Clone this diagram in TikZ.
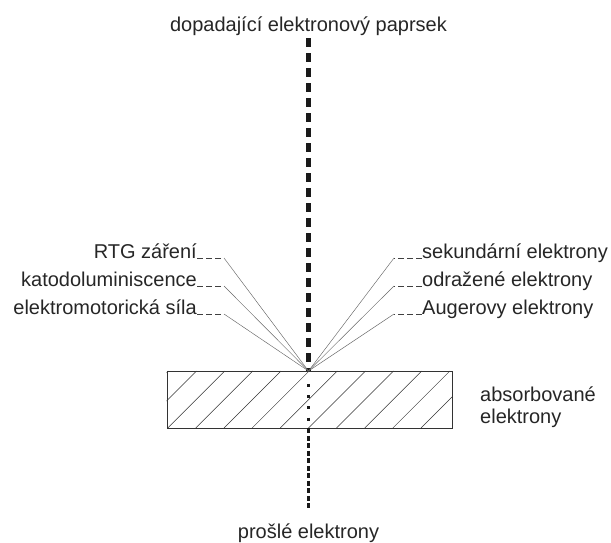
\documentclass[tikz,border=0pt]{standalone}
\usepackage{fontspec}
\setmainfont{Liberation Sans}
\usetikzlibrary{positioning}

\begin{document}
\begin{tikzpicture}[x=1pt, y=-1pt, node distance=28pt,
  every node/.style={font=\fontsize{20}{22}\selectfont, text=black!85, inner sep=0pt},
  lbl/.style={text height=14.5pt, text depth=4pt},
  beamline/.style={draw=black!90, line width=5pt, dash pattern=on 9pt off 6pt},
  passline/.style={draw=black!90, line width=3pt, dash pattern=on 5pt off 2.5pt},
  leader/.style={draw=black!75, line width=0.5pt, dash pattern=on 6pt off 3pt},
  ray/.style={draw=black!60, line width=0.45pt},
  hatch/.style={draw=black!80, line width=0.5pt}]
\useasboundingbox (0,0) rectangle (611,543);

% beam and sample
\node[anchor=base] (beam) at (308.5,32) {dopadající elektronový paprsek};
\coordinate (I) at (308.5,371);
\node[draw=black!80, line width=0.7pt, minimum width=285pt, minimum height=57pt] (plate) at (309.5,399.5) {};
\begin{scope}
  \clip (plate.south west) rectangle (plate.north east);
  \foreach \k in {-2,...,10}
    \draw[hatch] (139.5+28.15*\k, 428) -- (196.5+28.15*\k, 371);
\end{scope}
\draw[beamline] (beam.south) ++(0,2) -- (I);
\draw[draw=black!90, line width=3pt, dash pattern=on 3pt off 8.3pt] (I) ++(0,12.8) -- (I |- plate.south);
\node[anchor=base] (pass) at (308.5,538) {prošlé elektrony};
\draw[passline] (I |- plate.south) -- ++(0,80);
\node[anchor=base west, align=left] (abs) at (480,423) {absorbované\\elektrony};

% left labels
\node[lbl, anchor=base east] (rtg) at (197,258) {RTG záření};
\node[lbl, below=of rtg.base east, anchor=base east] (kat) {katodoluminiscence};
\node[lbl, below=of kat.base east, anchor=base east] (ems) {elektromotorická síla};
\draw[leader] (rtg.base east) -- ++(27,0) coordinate (rtg-k);
\draw[leader] (kat.base east) -- ++(27,0) coordinate (kat-k);
\draw[leader] (ems.base east) -- ++(27,0) coordinate (ems-k);
\draw[ray] (rtg-k) -- (I);
\draw[ray] (kat-k) -- (I);
\draw[ray] (ems-k) -- (I);

% right labels
\node[lbl, anchor=base west] (sek) at (422,258) {sekundární elektrony};
\node[lbl, below=of sek.base west, anchor=base west] (odr) {odražené elektrony};
\node[lbl, below=of odr.base west, anchor=base west] (aug) {Augerovy elektrony};
\draw[leader] (sek.base west) -- ++(-28,0) coordinate (sek-k);
\draw[leader] (odr.base west) -- ++(-28,0) coordinate (odr-k);
\draw[leader] (aug.base west) -- ++(-28,0) coordinate (aug-k);
\draw[ray] (sek-k) -- (I);
\draw[ray] (odr-k) -- (I);
\draw[ray] (aug-k) -- (I);
\end{tikzpicture}
\end{document}
